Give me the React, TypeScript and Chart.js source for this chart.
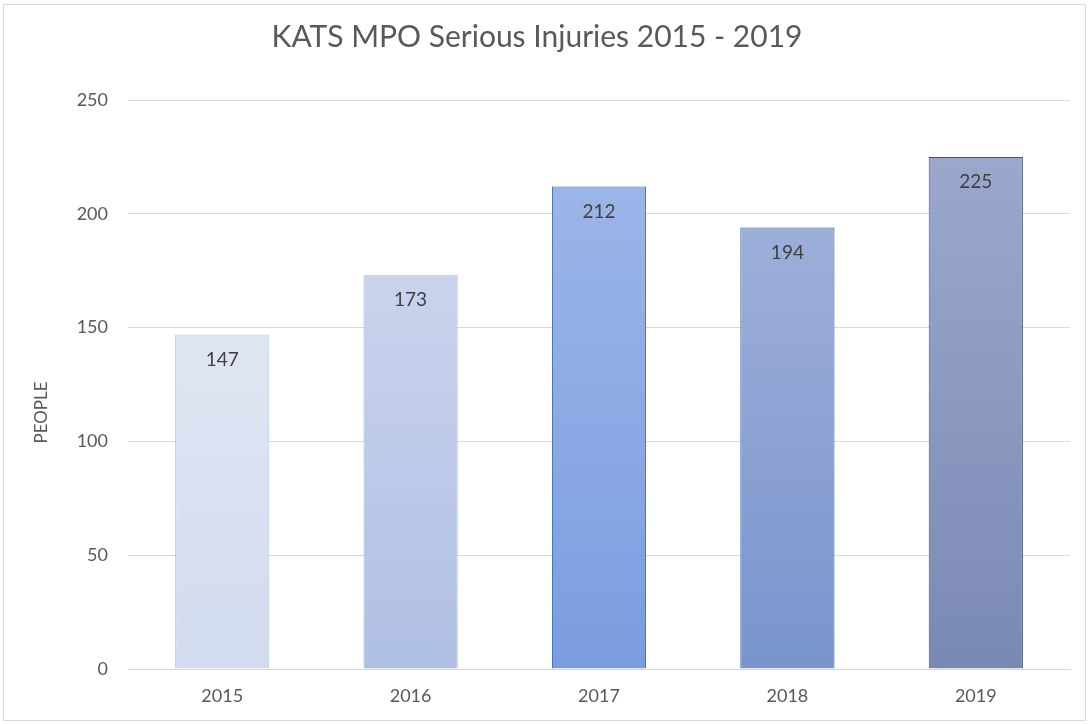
import React, { useEffect, useRef } from "react";
import { Chart, registerables } from "chart.js";

Chart.register(...registerables);

const categories = ["2015", "2016", "2017", "2018", "2019"];
const injuries = [147, 173, 212, 194, 225];
const yTicks = [0, 50, 100, 150, 200, 250];
const yTitle = "PEOPLE";
const topColors = ["#dfe5f2", "#c9d3ec", "#9cb5e8", "#9eaed9", "#9ba8cc"];
const bottomColors = ["#d2dbee", "#afbfe4", "#7a9de0", "#7994cd", "#7a89b4"];
const borderColors = ["#b7c5e5", "#9fb2df", "#2e64a8", "#2d5a95", "#3b5582"];

const FONT = "Lato, 'Open Sans', sans-serif";

const valueLabels = {
  id: "valueLabels",
  afterDatasetsDraw(chart: any) {
    const ctx = chart.ctx;
    const meta = chart.getDatasetMeta(0);
    ctx.save();
    ctx.font = `19px ${FONT}`;
    ctx.fillStyle = "#404040";
    ctx.textAlign = "center";
    ctx.textBaseline = "middle";
    meta.data.forEach((bar: any, i: number) => {
      ctx.fillText(String(injuries[i]), bar.x, bar.y + 25);
    });
    ctx.restore();
  },
};

const axisTitle = {
  id: "axisTitle",
  afterDraw(chart: any) {
    const ctx = chart.ctx;
    const area = chart.chartArea;
    ctx.save();
    ctx.font = `17px ${FONT}`;
    ctx.fillStyle = "#595959";
    ctx.textAlign = "center";
    ctx.textBaseline = "middle";
    ctx.translate(38, (area.top + area.bottom) / 2 + 28);
    ctx.rotate(-Math.PI / 2);
    ctx.fillText(yTitle, 0, 0);
    ctx.restore();
  },
};

export default function App() {
  const ref = useRef<HTMLCanvasElement | null>(null);
  useEffect(() => {
    if (!ref.current) return;
    const chart = new Chart(ref.current, {
      type: "bar",
      data: {
        labels: categories,
        datasets: [
          {
            data: injuries,
            backgroundColor: (c: any) => {
              const ch = c.chart;
              const i = c.dataIndex;
              if (!ch.chartArea || i === undefined) return topColors[i ?? 0];
              const ys = ch.scales.y;
              const top = ys.getPixelForValue(injuries[i]);
              const base = ys.getPixelForValue(0);
              const g = ch.ctx.createLinearGradient(0, top, 0, base);
              g.addColorStop(0, topColors[i]);
              g.addColorStop(1, bottomColors[i]);
              return g;
            },
            borderColor: borderColors,
            borderWidth: 1,
            barPercentage: 0.5,
            categoryPercentage: 1,
          },
        ],
      },
      options: {
        animation: false,
        responsive: false,
        maintainAspectRatio: false,
        layout: { padding: { left: 0, right: 15, top: 0, bottom: 0 } },
        plugins: {
          legend: { display: false },
          tooltip: { enabled: false },
          title: {
            display: true,
            text: "KATS MPO Serious Injuries 2015 - 2019",
            color: "#595959",
            font: { family: FONT, size: 30, weight: "normal" },
            padding: { top: 14, bottom: 45 },
          },
        },
        scales: {
          x: {
            grid: { display: false, drawTicks: false },
            border: { display: true, color: "#d9d9d9", width: 1 },
            ticks: {
              color: "#595959",
              font: { family: FONT, size: 18 },
              padding: 16,
            },
            afterFit: (s: any) => {
              s.height = 51;
            },
          },
          y: {
            min: 0,
            max: 250,
            afterBuildTicks: (s: any) => {
              s.ticks = yTicks.map((v) => ({ value: v }));
            },
            grid: { color: "#d9d9d9", drawTicks: false },
            border: { display: false },
            ticks: {
              color: "#595959",
              font: { family: FONT, size: 18 },
              padding: 20,
            },
            afterFit: (s: any) => {
              s.width = 124;
            },
          },
        },
      },
      plugins: [valueLabels, axisTitle],
    });
    return () => chart.destroy();
  }, []);

  return (
    <div
      style={{
        position: "fixed",
        left: 0,
        top: 0,
        width: 1089,
        height: 724,
        background: "#ffffff",
      }}
    >
      <div
        style={{
          position: "absolute",
          left: 3,
          top: 4,
          width: 1081,
          height: 715,
          border: "1px solid #d9d9d9",
        }}
      >
        <canvas ref={ref} width={1081} height={715} style={{ display: "block" }} />
      </div>
    </div>
  );
}
